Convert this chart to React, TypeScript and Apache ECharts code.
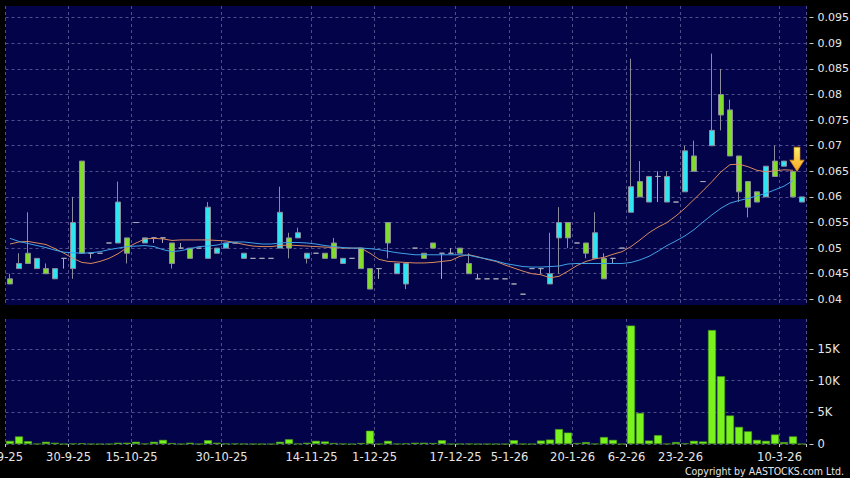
import React, { useEffect, useRef } from 'react';
import * as echarts from 'echarts';

// ---- data ----
const openP = [
  0.044, 0.046, 0.049, 0.046, 0.046, 0.044, 0.048, 0.046, 0.067, 0.049,
  0.049, 0.051, 0.051, 0.052, 0.055, 0.051, 0.052, 0.052, 0.051, 0.050,
  0.050, 0.050, 0.048, 0.049, 0.050, 0.051, 0.048, 0.048, 0.048, 0.048,
  0.050, 0.052, 0.052, 0.048, 0.049, 0.049, 0.051, 0.047, 0.048, 0.050,
  0.046, 0.046, 0.055, 0.045, 0.043, 0.050, 0.049, 0.051, 0.049, 0.049,
  0.050, 0.047, 0.044, 0.044, 0.044, 0.044, 0.043, 0.041, 0.046, 0.046,
  0.043, 0.052, 0.055, 0.051, 0.051, 0.048, 0.048, 0.048, 0.050, 0.057,
  0.063, 0.059, 0.064, 0.059, 0.059, 0.061, 0.068, 0.063, 0.070, 0.080,
  0.077, 0.068, 0.063, 0.061, 0.060, 0.067, 0.066, 0.065, 0.059,
];
const closeP = [
  0.043, 0.047, 0.047, 0.048, 0.045, 0.046, 0.048, 0.055, 0.049, 0.049,
  0.049, 0.051, 0.059, 0.049, 0.055, 0.052, 0.052, 0.052, 0.047, 0.050,
  0.048, 0.050, 0.058, 0.050, 0.051, 0.051, 0.049, 0.048, 0.048, 0.048,
  0.057, 0.050, 0.053, 0.049, 0.049, 0.048, 0.048, 0.048, 0.048, 0.046,
  0.042, 0.046, 0.051, 0.047, 0.047, 0.050, 0.048, 0.050, 0.049, 0.049,
  0.049, 0.045, 0.044, 0.044, 0.044, 0.044, 0.043, 0.041, 0.046, 0.046,
  0.045, 0.055, 0.052, 0.051, 0.049, 0.053, 0.044, 0.048, 0.050, 0.062,
  0.060, 0.064, 0.064, 0.064, 0.059, 0.069, 0.065, 0.063, 0.073, 0.076,
  0.068, 0.061, 0.058, 0.059, 0.066, 0.064, 0.067, 0.060, 0.060,
];
const lowP = [
  0.043, 0.046, 0.047, 0.046, 0.045, 0.044, 0.046, 0.044, 0.049, 0.048,
  0.049, 0.051, 0.051, 0.047, 0.055, 0.051, 0.051, 0.051, 0.046, 0.050,
  0.048, 0.050, 0.048, 0.049, 0.050, 0.051, 0.048, 0.048, 0.048, 0.048,
  0.050, 0.048, 0.052, 0.047, 0.049, 0.048, 0.048, 0.047, 0.048, 0.046,
  0.042, 0.044, 0.048, 0.045, 0.042, 0.050, 0.048, 0.050, 0.044, 0.049,
  0.049, 0.045, 0.044, 0.044, 0.044, 0.044, 0.043, 0.041, 0.046, 0.045,
  0.043, 0.045, 0.050, 0.051, 0.048, 0.048, 0.044, 0.047, 0.050, 0.057,
  0.060, 0.059, 0.059, 0.059, 0.059, 0.061, 0.065, 0.063, 0.070, 0.073,
  0.068, 0.059, 0.056, 0.059, 0.060, 0.064, 0.066, 0.060, 0.059,
];
const highP = [
  0.045, 0.049, 0.057, 0.048, 0.047, 0.046, 0.048, 0.060, 0.067, 0.049,
  0.049, 0.051, 0.063, 0.052, 0.055, 0.052, 0.052, 0.052, 0.051, 0.051,
  0.050, 0.050, 0.059, 0.050, 0.051, 0.051, 0.049, 0.048, 0.048, 0.048,
  0.062, 0.053, 0.054, 0.049, 0.049, 0.049, 0.052, 0.048, 0.048, 0.050,
  0.046, 0.046, 0.055, 0.047, 0.047, 0.050, 0.049, 0.051, 0.049, 0.050,
  0.050, 0.049, 0.045, 0.044, 0.044, 0.044, 0.043, 0.041, 0.046, 0.046,
  0.053, 0.058, 0.055, 0.051, 0.051, 0.057, 0.049, 0.048, 0.050, 0.087,
  0.067, 0.064, 0.065, 0.065, 0.059, 0.070, 0.071, 0.063, 0.088, 0.085,
  0.079, 0.068, 0.063, 0.061, 0.066, 0.070, 0.067, 0.065, 0.060,
];
const volume = [
  500, 1200, 450, 30, 350, 200, 0, 60, 120, 0,
  0, 0, 200, 200, 350, 50, 350, 650, 150, 0,
  200, 0, 600, 200, 60, 60, 30, 0, 0, 0,
  350, 750, 50, 200, 500, 400, 150, 30, 0, 150,
  2100, 0, 500, 30, 100, 200, 200, 150, 600, 0,
  30, 30, 0, 0, 0, 0, 600, 0, 0, 550,
  700, 2350, 1800, 150, 300, 30, 1100, 650, 0, 18700,
  4900, 550, 1400, 30, 300, 100, 500, 400, 18000, 10700,
  4500, 2700, 2000, 650, 500, 1500, 300, 1200, 0,
];
const maShort = [
  0.0508, 0.0512, 0.0513, 0.0510, 0.0507, 0.0499, 0.0490, 0.0480, 0.0472, 0.0470,
  0.0474, 0.0480, 0.0489, 0.0501, 0.0510, 0.0518, 0.0519, 0.0518, 0.0515, 0.0516,
  0.0516, 0.0516, 0.0516, 0.0515, 0.0514, 0.0511, 0.0507, 0.0504, 0.0503, 0.0503,
  0.0505, 0.0506, 0.0505, 0.0504, 0.0503, 0.0502, 0.0501, 0.0500, 0.0500, 0.0500,
  0.0490, 0.0478, 0.0474, 0.0473, 0.0472, 0.0471, 0.0471, 0.0472, 0.0474, 0.0476,
  0.0484, 0.0487, 0.0483, 0.0478, 0.0474, 0.0467, 0.0461, 0.0455, 0.0450, 0.0448,
  0.0442, 0.0445, 0.0455, 0.0466, 0.0474, 0.0479, 0.0482, 0.0488, 0.0493, 0.0503,
  0.0516, 0.0530, 0.0541, 0.0550, 0.0563, 0.0578, 0.0595, 0.0612, 0.0630, 0.0649,
  0.0663, 0.0664, 0.0659, 0.0652, 0.0649, 0.0651, 0.0653, 0.0652,
];
const maLong = [
  0.0519, 0.0513, 0.0509, 0.0505, 0.0501, 0.0496, 0.0492, 0.0491, 0.0490, 0.0491,
  0.0493, 0.0497, 0.0500, 0.0503, 0.0504, 0.0505, 0.0503, 0.0497, 0.0493, 0.0495,
  0.0499, 0.0503, 0.0504, 0.0506, 0.0510, 0.0512, 0.0512, 0.0510, 0.0508, 0.0508,
  0.0510, 0.0511, 0.0511, 0.0510, 0.0508, 0.0505, 0.0503, 0.0501, 0.0500, 0.0500,
  0.0499, 0.0497, 0.0494, 0.0491, 0.0489, 0.0487, 0.0487, 0.0487, 0.0487, 0.0487,
  0.0487, 0.0486, 0.0482, 0.0479, 0.0475, 0.0470, 0.0467, 0.0464, 0.0463, 0.0463,
  0.0464, 0.0465, 0.0469, 0.0470, 0.0470, 0.0470, 0.0470, 0.0470, 0.0470, 0.0472,
  0.0477, 0.0484, 0.0494, 0.0505, 0.0514, 0.0524, 0.0536, 0.0551, 0.0565, 0.0578,
  0.0588, 0.0593, 0.0597, 0.0602, 0.0607, 0.0614, 0.0621, 0.0632,
];
const priceTicks = [0.04, 0.045, 0.05, 0.055, 0.06, 0.065, 0.07, 0.075, 0.08, 0.085, 0.09, 0.095];
const volumeTicks = [0, 5000, 10000, 15000];
// [category index, date label]
const dateTicks: [number, string][] = [
  [0, '15-9-25'], [7, '30-9-25'], [14, '15-10-25'], [24, '30-10-25'], [34, '14-11-25'],
  [41, '1-12-25'], [50, '17-12-25'], [56, '5-1-26'], [63, '20-1-26'], [69, '6-2-26'],
  [75, '23-2-26'], [86, '10-3-26'],
];
const signalIndex = 87;
const signalPrice = 0.065;

const categories = openP.map((_, i) => String(i));

const BG = '#03034a';
const GRID = '#4f4f8c';
const UP = '#2de6f2';
const DOWN = '#82dc2c';
const BORDER = '#8c8c9c';
const DOJI = '#a8a8b8';
const VOL = '#7af21e';
const MA_S = '#d98a5e';
const MA_L = '#3fa2e6';
const TEXT = '#e6e6e6';
const FONT = "'DejaVu Sans', sans-serif";
const FONT_C = "'DejaVu Sans Condensed', 'DejaVu Sans', sans-serif";

export default function App() {
  const ref = useRef<HTMLDivElement>(null);
  useEffect(() => {
    if (!ref.current) return;
    const chart = echarts.init(ref.current, null, { renderer: 'svg' });
    const tickMap = new Map<number, string>(dateTicks);
    const tickFn = (i: number) => tickMap.has(i);
    const splitStyle = { color: GRID, type: [3, 3] as any, width: 1 };
    const candle = categories.map((_, i) => [openP[i], closeP[i], lowP[i], highP[i]]);

    chart.setOption({
      animation: false,
      backgroundColor: '#000000',
      textStyle: { fontFamily: FONT },
      grid: [
        { left: 5.5, right: 43.5, top: 6, height: 299, show: true, backgroundColor: BG, borderWidth: 0, containLabel: false, outerBoundsMode: 'none' },
        { left: 5.5, right: 43.5, top: 319, height: 125, show: true, backgroundColor: BG, borderWidth: 0, containLabel: false, outerBoundsMode: 'none' },
      ],
      xAxis: [
        {
          type: 'category', gridIndex: 0, data: categories, boundaryGap: true,
          axisLine: { show: false }, axisTick: { show: false }, axisLabel: { show: false },
          splitLine: { show: true, interval: tickFn, lineStyle: splitStyle },
        },
        {
          type: 'category', gridIndex: 1, data: categories, boundaryGap: true,
          axisLine: { show: false },
          axisTick: { show: true, interval: tickFn, length: 3, lineStyle: { color: '#c8c8c8' } },
          axisLabel: {
            show: true, interval: tickFn, margin: 7, color: TEXT, fontSize: 11.5, fontFamily: FONT,
            formatter: (_v: string, i: number) => {
              const t = tickMap.get(i);
              if (!t) return '';
              return i === 0 ? `{f|${t}}` : `{a|${t}}`;
            },
            rich: {
              a: { padding: [0, 9, 0, 0], color: TEXT, fontSize: 11.5, fontFamily: FONT },
              f: { padding: [0, 19, 0, 0], color: TEXT, fontSize: 11.5, fontFamily: FONT },
            },
          },
          splitLine: { show: true, interval: tickFn, lineStyle: splitStyle },
        },
      ],
      yAxis: [
        {
          type: 'value', gridIndex: 0, position: 'right', offset: 3, min: 0.03889, max: 0.09729, scale: true,
          axisLine: { show: false },
          axisTick: { show: true, length: 4, customValues: priceTicks, lineStyle: { color: '#c8c8c8' } },
          axisLabel: {
            customValues: priceTicks, margin: 8, color: TEXT, fontSize: 11, fontFamily: FONT,
            formatter: (v: number) => String(parseFloat(v.toFixed(3))),
          },
          splitLine: { show: true, lineStyle: splitStyle },
        },
        {
          type: 'value', gridIndex: 1, position: 'right', offset: 3, min: 0, max: 19740,
          axisLine: { show: false },
          axisTick: { show: true, length: 4, customValues: volumeTicks, lineStyle: { color: '#c8c8c8' } },
          axisLabel: {
            customValues: volumeTicks, margin: 8, color: TEXT, fontSize: 11.5, fontFamily: FONT,
            formatter: (v: number) => (v === 0 ? '0' : `${v / 1000}K`),
          },
          splitLine: { show: true, lineStyle: splitStyle },
        },
      ],
      series: [
        {
          type: 'candlestick', xAxisIndex: 0, yAxisIndex: 0, data: candle, barWidth: 6,
          itemStyle: {
            color: UP, color0: DOWN, borderColor: BORDER, borderColor0: BORDER,
            borderColorDoji: DOJI, borderWidth: 1,
          },
          markPoint: {
            silent: true,
            label: { show: false },
            data: [{
              coord: [signalIndex, signalPrice],
              symbol: 'path://M4,0 L10,0 L10,13 L14,13 L7,24 L0,13 L4,13 Z',
              symbolSize: [14, 24],
              symbolOffset: [4, '-50%'],
              itemStyle: {
                color: new echarts.graphic.LinearGradient(0, 0, 0, 1, [
                  { offset: 0, color: '#fff06a' },
                  { offset: 1, color: '#f5a623' },
                ]),
                borderColor: '#d88a10', borderWidth: 0.8,
              },
            }],
          },
        },
        {
          type: 'line', xAxisIndex: 0, yAxisIndex: 0, data: maShort, showSymbol: false,
          lineStyle: { color: MA_S, width: 1 }, z: 3,
        },
        {
          type: 'line', xAxisIndex: 0, yAxisIndex: 0, data: maLong, showSymbol: false,
          lineStyle: { color: MA_L, width: 1 }, z: 3,
        },
        {
          type: 'bar', xAxisIndex: 1, yAxisIndex: 1, data: volume, barWidth: 8,
          itemStyle: { color: VOL, borderColor: '#4aa012', borderWidth: 0.6 },
        },
      ],
      graphic: [
        {
          type: 'text', right: 6, top: 465,
          style: { text: 'Copyright by AASTOCKS.com Ltd.', fill: TEXT, fontSize: 10.5, fontFamily: FONT_C },
        },
      ],
    });
    return () => chart.dispose();
  }, []);
  return (
    <div
      ref={ref}
      style={{ position: 'fixed', left: 0, top: 0, width: 850, height: 478, background: '#000' }}
    />
  );
}
